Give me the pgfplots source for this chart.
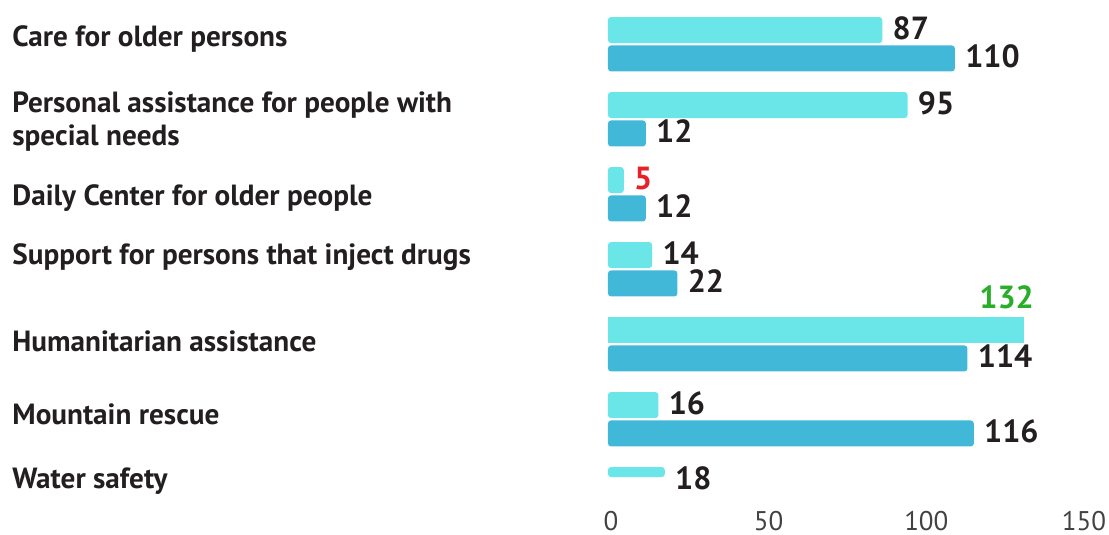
\documentclass[border=0pt]{standalone}
\usepackage{fontspec}
\setmainfont{PT Sans}
\usepackage{pgfplots}
\pgfplotsset{compat=1.18}
\definecolor{lightbar}{HTML}{6AE6E9}
\definecolor{darkbar}{HTML}{42B8D8}
\definecolor{txt}{HTML}{231F20}
\definecolor{redv}{HTML}{E8202A}
\definecolor{greenv}{HTML}{2AAE2A}
\begin{document}
\begin{tikzpicture}
\begin{axis}[
 at={(304pt,20.375pt)}, anchor=south west,
 scale only axis, width=236.5pt, height=242.125pt,
 xmin=0, xmax=150, ymin=0, ymax=6.457,
 clip=false,
 axis line style={draw=none}, major tick length=0pt,
 /pgf/number format/assume math mode=true,
 xtick={0,50,100,150},
 xticklabel style={anchor=center, yshift=-13.4pt, xshift=1.5pt, font=\fontsize{13.5}{15}\selectfont, text=txt!85},
 ytick={6.097,4.99,3.977,3.177,2.057,1.083,0.19},
 yticklabels={Care for older persons, {Personal assistance for people with\\special needs}, Daily Center for older people, Support for persons that inject drugs, Humanitarian assistance, Mountain rescue, Water safety},
 yticklabel style={anchor=west, align=left, inner sep=0pt, xshift=-298pt, yshift=-0.8pt, font=\bfseries\fontsize{14.6}{16.8}\selectfont, text=txt},
 xbar, bar width=13pt,
 point meta=x,
 nodes near coords,
 every node near coord/.append style={anchor=west, inner sep=0pt, xshift=5pt, yshift=1pt, font=\bfseries\fontsize{16}{18}\selectfont, text=txt},
]
\addplot[fill=lightbar, draw=none, rounded corners=1.5pt, bar shift=7.1pt] coordinates {(87,6) (95,5) (14,3) (16,1)};
\addplot[fill=lightbar, draw=none, rounded corners=1.5pt, bar shift=7.1pt, every node near coord/.append style={text=redv}] coordinates {(5,4)};
\addplot[fill=lightbar, draw=none, bar shift=7.1pt, every node near coord/.append style={text=greenv, anchor=south east, xshift=0pt, yshift=9.5pt}] coordinates {(132,2)};
\addplot[fill=lightbar, draw=none, rounded corners=1.5pt, bar shift=11.1pt, bar width=5pt, every node near coord/.append style={yshift=-4pt}] coordinates {(18,0)};
\addplot[fill=darkbar, draw=none, rounded corners=1.5pt, bar shift=-7.1pt] coordinates {(110,6) (12,5) (12,4) (22,3) (114,2) (116,1)};
\end{axis}
\pgfresetboundingbox
\useasboundingbox (0,0) rectangle (554.5pt,267.5pt);
\end{tikzpicture}
\end{document}
